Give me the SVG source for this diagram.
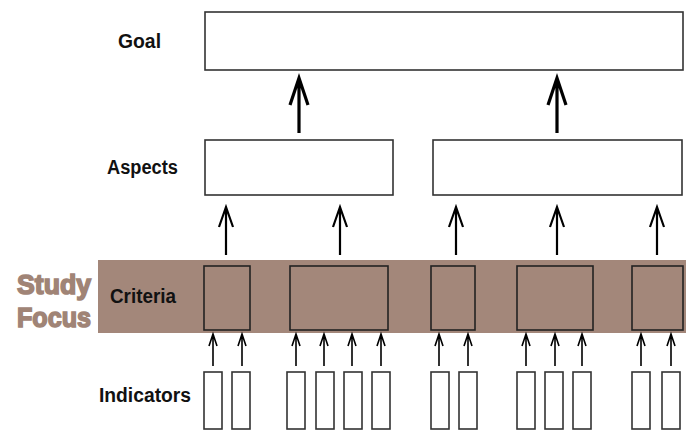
<svg xmlns="http://www.w3.org/2000/svg" width="686" height="433" viewBox="0 0 686 433">
<style>
.box{fill:#fff;stroke:#333;stroke-width:1.6}
.cbox{fill:#a3877a;stroke:#222;stroke-width:1.6}
.lbl{font-family:"Liberation Sans",Arial,sans-serif;font-weight:bold;font-size:20px;fill:#111}
.sf{font-family:"Liberation Sans",Arial,sans-serif;font-weight:bold;font-size:28px;fill:#a08476;stroke:#a08476;stroke-width:1.6}
.a1{fill:none;stroke:#000;stroke-width:3.2;stroke-linecap:butt}
.a2{fill:none;stroke:#000;stroke-width:2.2}
.a3{fill:none;stroke:#000;stroke-width:1.6}
</style>
<rect x="98" y="260" width="588" height="73" fill="#a3877a"/>
<g id="labels">
<text class="lbl" x="118" y="48" textLength="43" lengthAdjust="spacingAndGlyphs">Goal</text>
<text class="lbl" x="107" y="174" textLength="71" lengthAdjust="spacingAndGlyphs">Aspects</text>
<text class="lbl" x="110" y="303" textLength="66" lengthAdjust="spacingAndGlyphs">Criteria</text>
<text class="lbl" x="99" y="402" textLength="92" lengthAdjust="spacingAndGlyphs">Indicators</text>
<text class="sf" x="17" y="294" textLength="74" lengthAdjust="spacingAndGlyphs">Study</text>
<text class="sf" x="17" y="327" textLength="74" lengthAdjust="spacingAndGlyphs">Focus</text>
</g>
<g id="goal"><rect class="box" x="205" y="12" width="478" height="58"/></g>
<g id="aspect1"><rect class="box" x="205" y="140" width="188" height="55"/></g>
<g id="aspect2"><rect class="box" x="433" y="140" width="249" height="55"/></g>
<g id="criteria">
<rect class="cbox" x="204" y="266" width="46" height="64"/>
<rect class="cbox" x="290" y="266" width="98" height="64"/>
<rect class="cbox" x="431" y="266" width="44" height="64"/>
<rect class="cbox" x="517" y="266" width="76" height="64"/>
<rect class="cbox" x="632" y="266" width="51" height="64"/>
</g>
<g id="indicators">
<rect class="box" x="204" y="372" width="18" height="57"/>
<rect class="box" x="232" y="372" width="18" height="57"/>
<rect class="box" x="287" y="372" width="18" height="57"/>
<rect class="box" x="316" y="372" width="18" height="57"/>
<rect class="box" x="344" y="372" width="18" height="57"/>
<rect class="box" x="372" y="372" width="18" height="57"/>
<rect class="box" x="431" y="372" width="18" height="57"/>
<rect class="box" x="459" y="372" width="18" height="57"/>
<rect class="box" x="517" y="372" width="18" height="57"/>
<rect class="box" x="545" y="372" width="18" height="57"/>
<rect class="box" x="573" y="372" width="18" height="57"/>
<rect class="box" x="632" y="372" width="18" height="57"/>
<rect class="box" x="662" y="372" width="18" height="57"/>
</g>
<g id="connectors">
<path class="a1" d="M299 133V79M290 105L299 78L308 105"/>
<path class="a1" d="M557 133V79M548 105L557 78L566 105"/>
<path class="a2" d="M226 255V208M219 227L226 207L233 227"/>
<path class="a2" d="M340 255V208M333 227L340 207L347 227"/>
<path class="a2" d="M456 255V208M449 227L456 207L463 227"/>
<path class="a2" d="M557 255V208M550 227L557 207L564 227"/>
<path class="a2" d="M657 255V208M650 227L657 207L664 227"/>
<path class="a3" d="M213 366V335M209 346L213 334L217 346"/>
<path class="a3" d="M242 366V335M238 346L242 334L246 346"/>
<path class="a3" d="M296 366V335M292 346L296 334L300 346"/>
<path class="a3" d="M324 366V335M320 346L324 334L328 346"/>
<path class="a3" d="M352 366V335M348 346L352 334L356 346"/>
<path class="a3" d="M381 366V335M377 346L381 334L385 346"/>
<path class="a3" d="M439 366V335M435 346L439 334L443 346"/>
<path class="a3" d="M468 366V335M464 346L468 334L472 346"/>
<path class="a3" d="M526 366V335M522 346L526 334L530 346"/>
<path class="a3" d="M555 366V335M551 346L555 334L559 346"/>
<path class="a3" d="M582 366V335M578 346L582 334L586 346"/>
<path class="a3" d="M641 366V335M637 346L641 334L645 346"/>
<path class="a3" d="M671 366V335M667 346L671 334L675 346"/>
</g>
</svg>
